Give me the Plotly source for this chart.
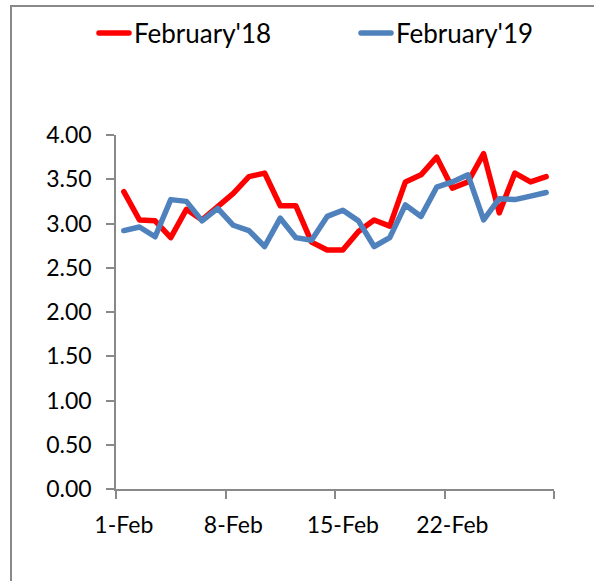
import plotly.graph_objects as go

days = list(range(1, 29))
tick_days = [1, 8, 15, 22]
tick_labels = ["1-Feb", "8-Feb", "15-Feb", "22-Feb"]
y_ticks = [0, 0.5, 1.0, 1.5, 2.0, 2.5, 3.0, 3.5, 4.0]

feb18 = [3.36, 3.04, 3.03, 2.84, 3.16, 3.04, 3.19, 3.34, 3.53, 3.57,
         3.20, 3.20, 2.79, 2.70, 2.70, 2.91, 3.04, 2.97, 3.47, 3.55,
         3.75, 3.40, 3.47, 3.79, 3.12, 3.57, 3.47, 3.53]
feb19 = [2.92, 2.96, 2.85, 3.27, 3.25, 3.03, 3.17, 2.98, 2.92, 2.74,
         3.06, 2.84, 2.81, 3.08, 3.15, 3.03, 2.74, 2.84, 3.21, 3.08,
         3.41, 3.47, 3.55, 3.04, 3.28, 3.27, 3.31, 3.35]

W, H = 594, 581
L, R, T, B = 116, 40, 135, 92
FONT = "Lato, 'Open Sans', sans-serif"
GRAY = "#898989"

fig = go.Figure()
fig.add_trace(go.Scatter(x=days, y=feb18, mode="lines", name="February'18",
                         line=dict(color="#FF0000", width=5.5),
                         legend="legend", showlegend=True))
fig.add_trace(go.Scatter(x=days, y=feb19, mode="lines", name="February'19",
                         line=dict(color="#4F81BD", width=5.5),
                         legend="legend2", showlegend=True))

pw, ph = W - L - R, H - T - B
def px_x(p):
    return (p - L) / pw
def px_y(p):
    return (H - B - p) / ph

border = (f"M {px_x(11)},{px_y(620)} L {px_x(11)},{px_y(6)} L {px_x(640)},{px_y(6)}")

legend_common = dict(orientation="h", xref="container", yref="container",
                     xanchor="left", yanchor="middle",
                     font=dict(size=26, family=FONT, color="black"),
                     bgcolor="rgba(0,0,0,0)")

fig.update_layout(
    width=W, height=H,
    showlegend=True,
    margin=dict(l=L, r=R, t=T, b=B),
    paper_bgcolor="white", plot_bgcolor="white",
    font=dict(family=FONT, color="black"),
    legend=dict(x=94 / W, y=1 - 33 / H, **legend_common),
    legend2=dict(x=356 / W, y=1 - 33 / H, **legend_common),
    xaxis=dict(range=[0.5, 28.5], tickmode="array", tickvals=tick_days,
               ticktext=tick_labels, ticks="outside", ticklen=8,
               tickcolor="rgba(0,0,0,0)", showline=True, linecolor=GRAY,
               linewidth=1.5, showgrid=False, zeroline=False,
               tickfont=dict(size=23, family=FONT, color="black"),
               ticklabelstandoff=7,
               minor=dict(tickmode="array", tickvals=[0.5, 7.5, 14.5, 21.5, 28.5],
                          ticks="outside", ticklen=8, tickwidth=1.5,
                          tickcolor=GRAY, showgrid=False)),
    yaxis=dict(range=[0, 4], tickmode="array", tickvals=y_ticks,
               tickformat=".2f", ticks="outside", ticklen=8, tickwidth=1.5,
               tickcolor=GRAY, showline=True, linecolor=GRAY, linewidth=1.5,
               showgrid=False, zeroline=False,
               tickfont=dict(size=23, family=FONT, color="black"),
               ticklabelstandoff=10),
    shapes=[dict(type="path", xref="paper", yref="paper", path=border,
                 line=dict(color=GRAY, width=2), layer="below")],
)

fig.write_html("out.html",
               config={"displayModeBar": False},
               post_script=("document.body.style.margin='0';"
                            "document.querySelectorAll('path.js-line').forEach(function(p){"
                            "p.style.strokeLinejoin='round';p.style.strokeLinecap='round';});"))
